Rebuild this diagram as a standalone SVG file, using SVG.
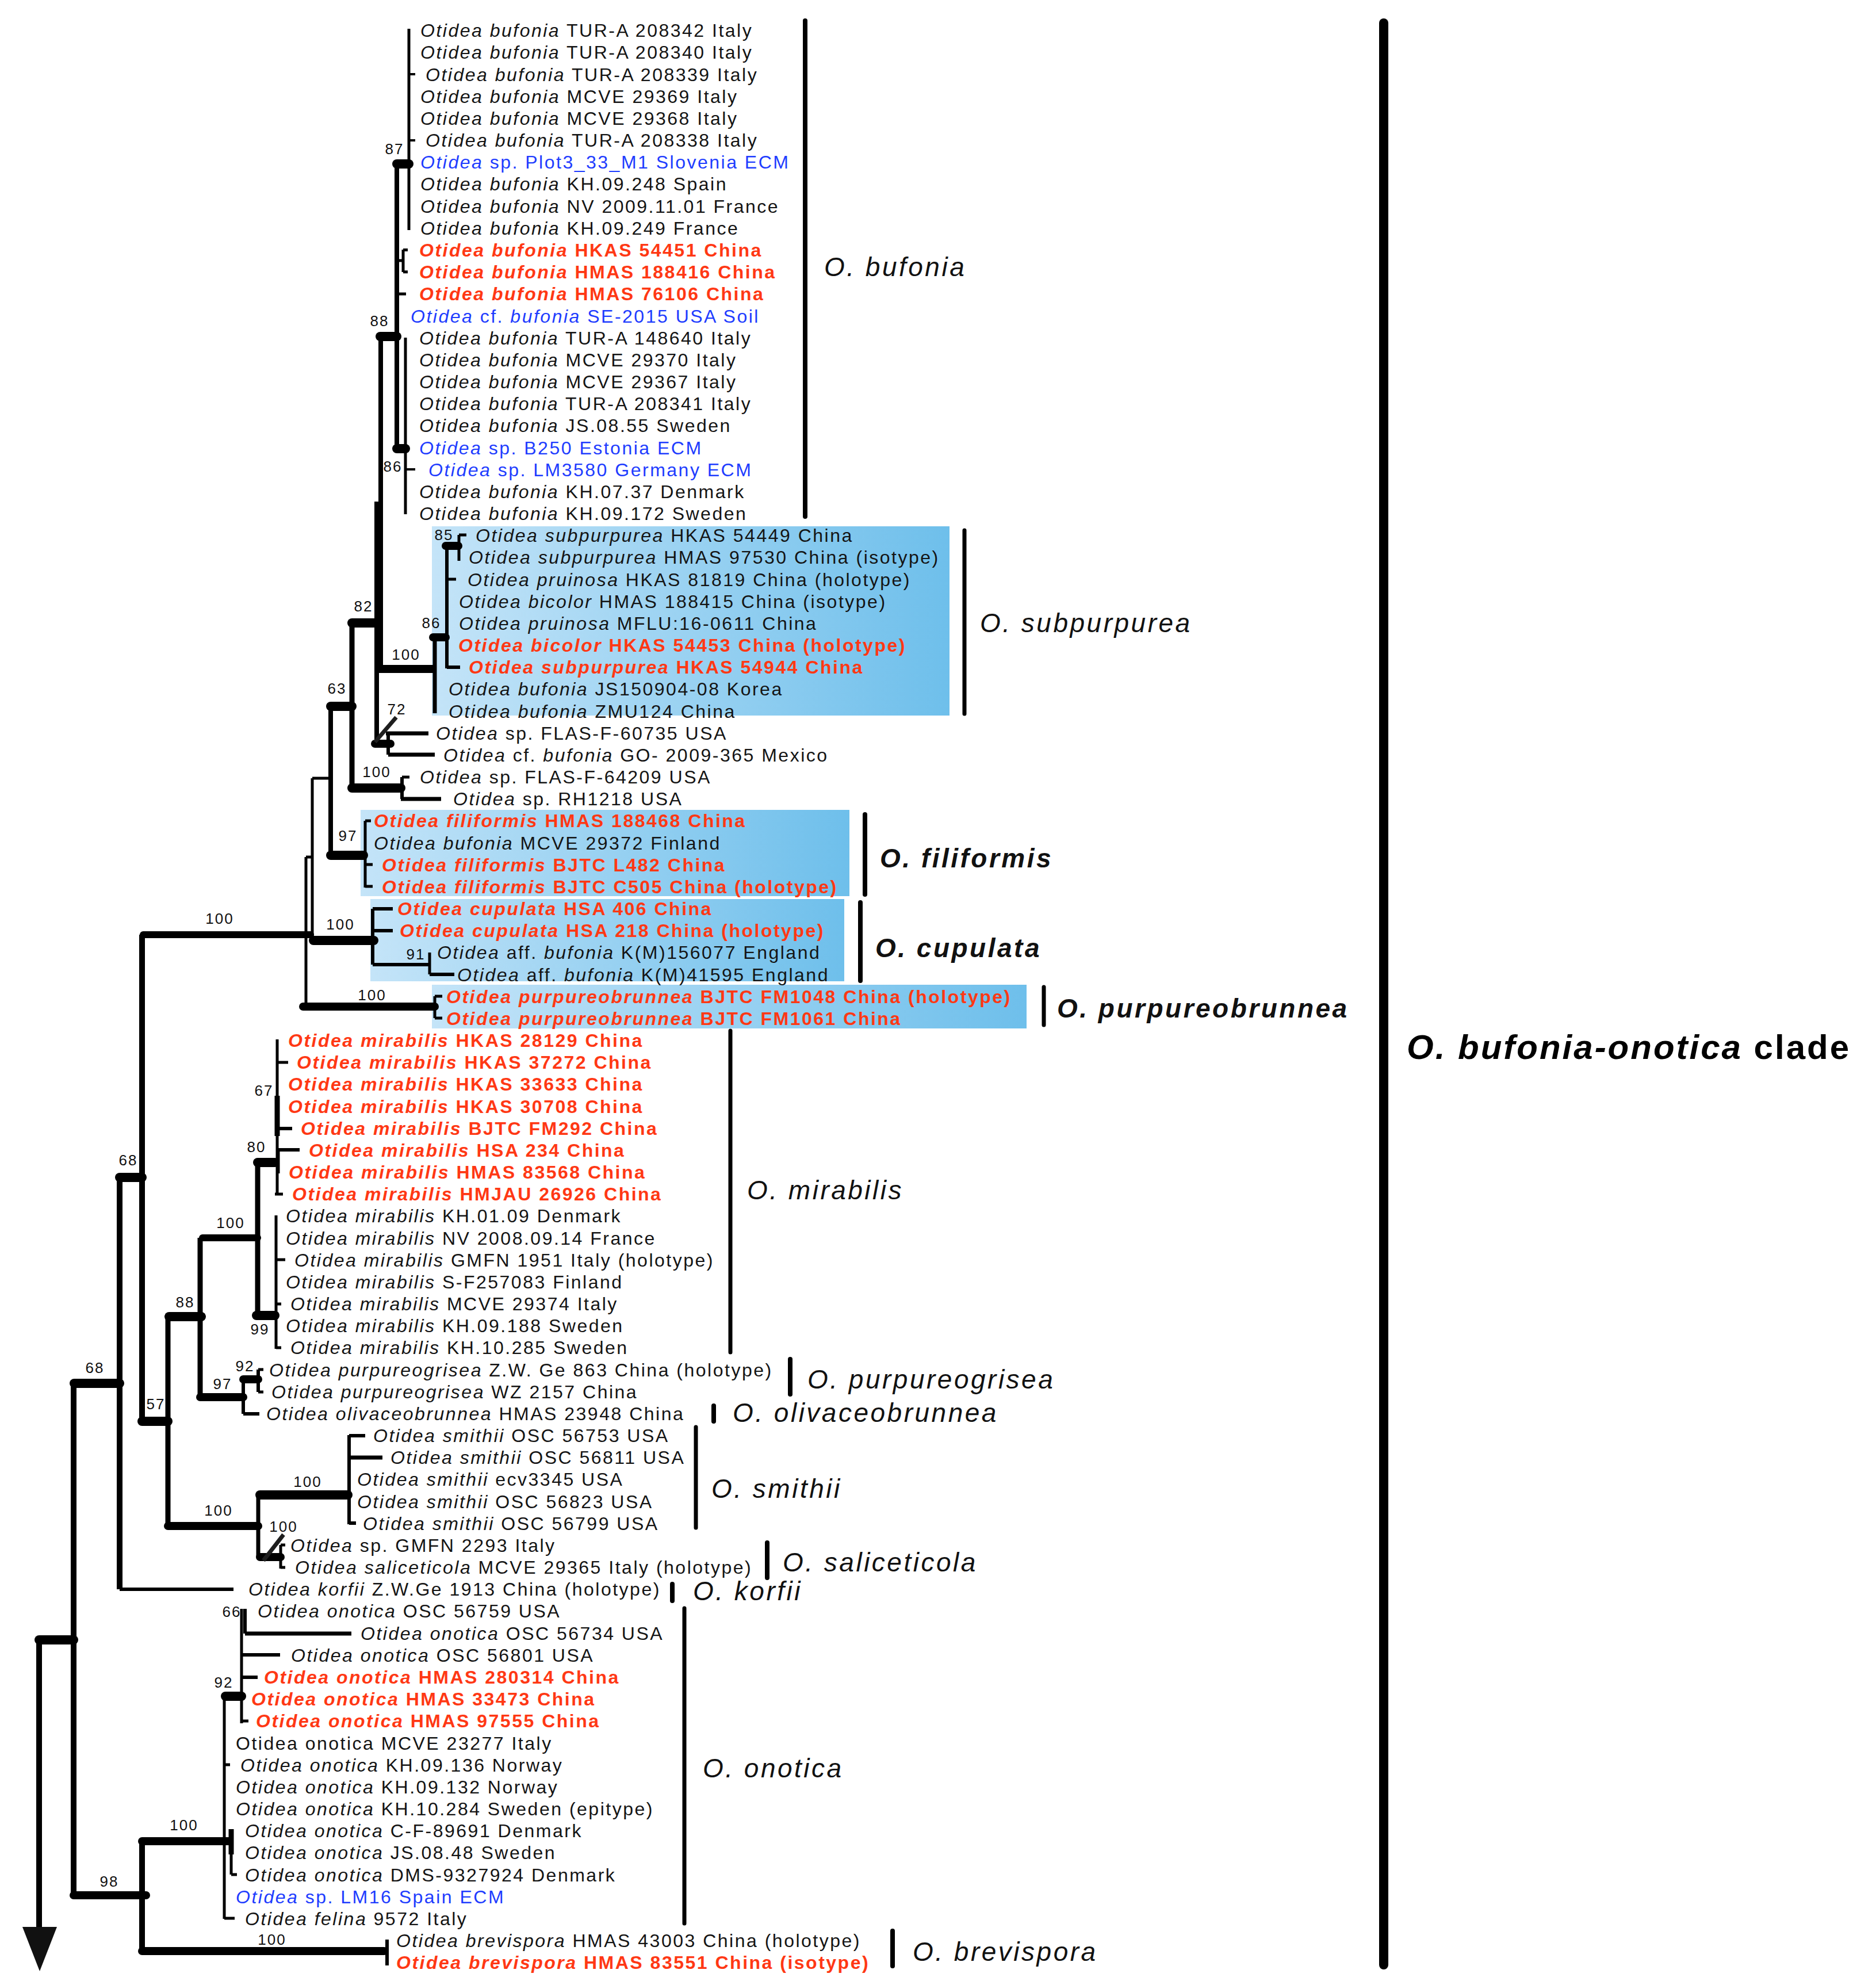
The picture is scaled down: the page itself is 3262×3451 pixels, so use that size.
<svg xmlns="http://www.w3.org/2000/svg" width="3262" height="3451" viewBox="0 0 3262 3451">
<defs>
<linearGradient id="bx" x1="0" y1="0" x2="1" y2="0">
<stop offset="0" stop-color="#c4e4f8"/>
<stop offset="1" stop-color="#6ebfeb"/>
</linearGradient>
<style>
.lf{font-family:"Liberation Sans",Arial,sans-serif;font-size:32px;letter-spacing:2.5px;fill:#141414}
.i{font-style:italic}
.red{fill:#ff3814;font-weight:bold}
.blu{fill:#1e3cff}
.sp{font-family:"Liberation Sans",Arial,sans-serif;font-size:26px;letter-spacing:2px;fill:#111;text-anchor:middle}
.cl{font-family:"Liberation Sans",Arial,sans-serif;font-size:46px;letter-spacing:3.5px;fill:#111;font-style:italic}
.clb{font-weight:bold}
.big{font-family:"Liberation Sans",Arial,sans-serif;font-size:60px;letter-spacing:3px;fill:#000;font-weight:bold}
.s{stroke:#000;fill:none}
.sl{stroke:#1e1e1e;fill:none;stroke-width:7}
.w4{stroke-width:4}.w5{stroke-width:5}.w6{stroke-width:6}.w7{stroke-width:7}.w8{stroke-width:8}.w9{stroke-width:9}.w10{stroke-width:10}.w12{stroke-width:12}.w14{stroke-width:14}.w16{stroke-width:16}
.rc{stroke-linecap:round}
.bar{stroke:#000;fill:none;stroke-linecap:round}
</style>
</defs>
<rect width="3262" height="3451" fill="#fff"/>

<g id="boxes">
<rect x="751" y="915" width="900" height="329" fill="url(#bx)"/>
<rect x="627" y="1408" width="850" height="150" fill="url(#bx)"/>
<rect x="644" y="1563" width="824" height="143" fill="url(#bx)"/>
<rect x="751" y="1712" width="1034" height="76" fill="url(#bx)"/>
</g>

<g id="connectors">
<path class="s w5" d="M711 50V400"/>
<path class="s w4" d="M711 129H722M711 244H722"/>
<path class="s w16 rc" d="M690 285H711"/>
<path class="s w8" d="M690 285V781"/>
<path class="s w5" d="M690 453H701M701 434V473M701 434.5H709M701 472.7H709M690 511H706"/>
<path class="s w16 rc" d="M661 585H690"/>
<path class="s w5" d="M705 587V894"/>
<path class="s w4" d="M705 816H722"/>
<path class="s w16 rc" d="M690 780H705"/>
<path class="s w8" d="M662 585V1163M655 872V1293"/>

<path class="s w16 rc" d="M612 1083H652"/>
<path class="s w14" d="M656 1163H758"/>
<path class="s w7" d="M756 1108V1240"/>
<path class="s w14 rc" d="M753 1108H775"/>
<path class="s w6" d="M777 949V1162M777 1160H800"/>
<path class="s w5" d="M777 1007H793"/>
<path class="s w14 rc" d="M775 949H797"/>
<path class="s w5" d="M798 930V975M798 930H811"/>

<path class="s w14 rc" d="M652 1293H679"/>
<path class="s w6" d="M675 1275V1312"/>
<path class="s w7" d="M671 1275H745M675 1312H756"/>
<path class="sl" d="M689 1247L652 1290"/>

<path class="s w16 rc" d="M575 1228H612"/>
<path class="s w9" d="M612 1083V1372"/>
<path class="s w16 rc" d="M612 1370H697"/>
<path class="s w6" d="M699 1351V1389"/>
<path class="s w5" d="M699 1351H712"/>
<path class="s w7" d="M697 1389H767"/>

<path class="s w8" d="M575 1228V1487"/>
<path class="s w5" d="M543 1353H575"/>
<path class="s w16 rc" d="M575 1487H632"/>
<path class="s w5" d="M635 1427V1543M635 1427H645M635 1503H648M635 1541H648"/>

<path class="s w5" d="M543 1353V1628M532 1490V1752M532 1490H545"/>
<path class="s w12 rc" d="M249 1625H540"/>
<path class="s w16 rc" d="M545 1635H650"/>
<path class="s w6" d="M648 1580V1677M648 1580H683M648 1618H683M648 1677H747M747 1694H790"/>
<path class="s w5" d="M747 1656V1694"/>
<path class="s w14 rc" d="M527 1750H756"/>
<path class="s w5" d="M756 1732V1770M756 1732H769M756 1770H769"/>

<path class="s w5" d="M482 1807V2076M482 1847H501M484 1999V2040M478 2076H492"/>
<path class="s w9" d="M482 1905V1975"/>
<path class="s w6" d="M482 1962H508M482 1999H521"/>
<path class="s w16 rc" d="M448 2021H478"/>
<path class="s w9" d="M448 2021V2287"/>
<path class="s w12 rc" d="M352 2152H448"/>
<path class="s w16 rc" d="M446 2287H478"/>
<path class="s w5" d="M480 2113V2345M480 2190H496M480 2267H489M480 2343H489"/>

<path class="s w9" d="M348 2152V2429"/>
<path class="s w16 rc" d="M294 2289H350"/>
<path class="s w14 rc" d="M348 2429H423"/>
<path class="s w6" d="M423 2398V2458M423 2458H451M449 2381V2420"/>
<path class="s w14 rc" d="M423 2398H449"/>
<path class="s w5" d="M449 2381H458M449 2420H458"/>

<path class="s w9" d="M292 2289V2653"/>
<path class="s w16 rc" d="M247 2471H292"/>
<path class="s w14 rc" d="M292 2653H449"/>
<path class="s w7" d="M449 2599V2708"/>
<path class="s w16 rc" d="M452 2599H605"/>
<path class="s w6" d="M607 2495V2650M607 2496H635M607 2648H619"/>
<path class="s w7" d="M607 2534H665"/>
<path class="s w14 rc" d="M452 2707H488"/>
<path class="s w5" d="M488 2686V2727M488 2686H496M488 2725H496"/>
<path class="sl" d="M493 2668L458 2713"/>

<path class="s w10" d="M247 1625V2471"/>
<path class="s w16 rc" d="M208 2047H247"/>
<path class="s w10" d="M208 2047V2763"/>
<path class="s w6" d="M208 2763H406"/>
<path class="s w16 rc" d="M129 2405H208"/>
<path class="s w10" d="M128 2405V3295"/>
<path class="s w14 rc" d="M128 3295H254"/>
<path class="s w16 rc" d="M68 2851H128"/>
<path class="s w10" d="M68 2851V3352"/>
<polygon points="39,3350 99,3350 69,3427" fill="#111"/>

<path class="s w10" d="M247 3201V3392"/>
<path class="s w14 rc" d="M247 3201H398"/>
<path class="s w5" d="M390 2949V3336M420 2797V2996M420 2992H432M390 3068H400M402 3180V3259M402 3259H412M390 3335H408"/>
<path class="s w16 rc" d="M392 2949H420"/>
<path class="s w6" d="M426 2797V2840M420 2877H487M420 2916H448"/>
<path class="s w7" d="M426 2840H611"/>
<path class="s w9" d="M402 3180V3224"/>
<path class="s w14 rc" d="M247 3392H668"/>
<path class="s w6" d="M673 3372V3417"/>
</g>

<g id="support">
<text class="sp" x="686" y="268">87</text>
<text class="sp" x="660" y="567">88</text>
<text class="sp" x="683" y="820">86</text>
<text class="sp" x="772" y="939">85</text>
<text class="sp" x="750" y="1092">86</text>
<text class="sp" x="706" y="1147">100</text>
<text class="sp" x="632" y="1063">82</text>
<text class="sp" x="586" y="1206">63</text>
<text class="sp" x="690" y="1242">72</text>
<text class="sp" x="655" y="1351">100</text>
<text class="sp" x="605" y="1462">97</text>
<text class="sp" x="382" y="1606">100</text>
<text class="sp" x="592" y="1616">100</text>
<text class="sp" x="723" y="1668">91</text>
<text class="sp" x="647" y="1739">100</text>
<text class="sp" x="459" y="1905">67</text>
<text class="sp" x="446" y="2003">80</text>
<text class="sp" x="223" y="2026">68</text>
<text class="sp" x="401" y="2135">100</text>
<text class="sp" x="322" y="2273">88</text>
<text class="sp" x="452" y="2320">99</text>
<text class="sp" x="426" y="2384">92</text>
<text class="sp" x="165" y="2387">68</text>
<text class="sp" x="387" y="2415">97</text>
<text class="sp" x="271" y="2450">57</text>
<text class="sp" x="535" y="2585">100</text>
<text class="sp" x="380" y="2635">100</text>
<text class="sp" x="493" y="2663">100</text>
<text class="sp" x="403" y="2811">66</text>
<text class="sp" x="389" y="2934">92</text>
<text class="sp" x="320" y="3182">100</text>
<text class="sp" x="190" y="3280">98</text>
<text class="sp" x="473" y="3381">100</text>
</g>

<g id="leaves">
<g id="leaf01"><text class="lf" x="731" y="64"><tspan class="i">Otidea bufonia</tspan> TUR-A 208342 Italy</text></g>
<g id="leaf02"><text class="lf" x="731" y="102"><tspan class="i">Otidea bufonia</tspan> TUR-A 208340 Italy</text></g>
<g id="leaf03"><text class="lf" x="740" y="141"><tspan class="i">Otidea bufonia</tspan> TUR-A 208339 Italy</text></g>
<g id="leaf04"><text class="lf" x="731" y="179"><tspan class="i">Otidea bufonia</tspan> MCVE 29369 Italy</text></g>
<g id="leaf05"><text class="lf" x="731" y="217"><tspan class="i">Otidea bufonia</tspan> MCVE 29368 Italy</text></g>
<g id="leaf06"><text class="lf" x="740" y="255"><tspan class="i">Otidea bufonia</tspan> TUR-A 208338 Italy</text></g>
<g id="leaf07"><text class="lf blu" x="731" y="293"><tspan class="i">Otidea</tspan> sp. Plot3_33_M1 Slovenia ECM</text></g>
<g id="leaf08"><text class="lf" x="731" y="331"><tspan class="i">Otidea bufonia</tspan> KH.09.248 Spain</text></g>
<g id="leaf09"><text class="lf" x="731" y="370"><tspan class="i">Otidea bufonia</tspan> NV 2009.11.01 France</text></g>
<g id="leaf10"><text class="lf" x="731" y="408"><tspan class="i">Otidea bufonia</tspan> KH.09.249 France</text></g>
<g id="leaf11"><text class="lf red" x="729" y="446"><tspan class="i">Otidea bufonia</tspan> HKAS 54451 China</text></g>
<g id="leaf12"><text class="lf red" x="729" y="484"><tspan class="i">Otidea bufonia</tspan> HMAS 188416 China</text></g>
<g id="leaf13"><text class="lf red" x="729" y="522"><tspan class="i">Otidea bufonia</tspan> HMAS 76106 China</text></g>
<g id="leaf14"><text class="lf blu" x="714" y="561"><tspan class="i">Otidea</tspan> cf. <tspan class="i">bufonia</tspan> SE-2015 USA Soil</text></g>
<g id="leaf15"><text class="lf" x="729" y="599"><tspan class="i">Otidea bufonia</tspan> TUR-A 148640 Italy</text></g>
<g id="leaf16"><text class="lf" x="729" y="637"><tspan class="i">Otidea bufonia</tspan> MCVE 29370 Italy</text></g>
<g id="leaf17"><text class="lf" x="729" y="675"><tspan class="i">Otidea bufonia</tspan> MCVE 29367 Italy</text></g>
<g id="leaf18"><text class="lf" x="729" y="713"><tspan class="i">Otidea bufonia</tspan> TUR-A 208341 Italy</text></g>
<g id="leaf19"><text class="lf" x="729" y="751"><tspan class="i">Otidea bufonia</tspan> JS.08.55 Sweden</text></g>
<g id="leaf20"><text class="lf blu" x="729" y="790"><tspan class="i">Otidea</tspan> sp. B250 Estonia ECM</text></g>
<g id="leaf21"><text class="lf blu" x="745" y="828"><tspan class="i">Otidea</tspan> sp. LM3580 Germany ECM</text></g>
<g id="leaf22"><text class="lf" x="729" y="866"><tspan class="i">Otidea bufonia</tspan> KH.07.37 Denmark</text></g>
<g id="leaf23"><text class="lf" x="729" y="904"><tspan class="i">Otidea bufonia</tspan> KH.09.172 Sweden</text></g>
<g id="leaf24"><text class="lf" x="827" y="942"><tspan class="i">Otidea subpurpurea</tspan> HKAS 54449 China</text></g>
<g id="leaf25"><text class="lf" x="815" y="980"><tspan class="i">Otidea subpurpurea</tspan> HMAS 97530 China (isotype)</text></g>
<g id="leaf26"><text class="lf" x="813" y="1019"><tspan class="i">Otidea pruinosa</tspan> HKAS 81819 China (holotype)</text></g>
<g id="leaf27"><text class="lf" x="798" y="1057"><tspan class="i">Otidea bicolor</tspan> HMAS 188415 China (isotype)</text></g>
<g id="leaf28"><text class="lf" x="798" y="1095"><tspan class="i">Otidea pruinosa</tspan> MFLU:16-0611 China</text></g>
<g id="leaf29"><text class="lf red" x="797" y="1133"><tspan class="i">Otidea bicolor</tspan> HKAS 54453 China (holotype)</text></g>
<g id="leaf30"><text class="lf red" x="815" y="1171"><tspan class="i">Otidea subpurpurea</tspan> HKAS 54944 China</text></g>
<g id="leaf31"><text class="lf" x="780" y="1209"><tspan class="i">Otidea bufonia</tspan> JS150904-08 Korea</text></g>
<g id="leaf32"><text class="lf" x="780" y="1248"><tspan class="i">Otidea bufonia</tspan> ZMU124 China</text></g>
<g id="leaf33"><text class="lf" x="758" y="1286"><tspan class="i">Otidea</tspan> sp. FLAS-F-60735 USA</text></g>
<g id="leaf34"><text class="lf" x="771" y="1324"><tspan class="i">Otidea</tspan> cf. <tspan class="i">bufonia</tspan> GO- 2009-365 Mexico</text></g>
<g id="leaf35"><text class="lf" x="730" y="1362"><tspan class="i">Otidea</tspan> sp. FLAS-F-64209 USA</text></g>
<g id="leaf36"><text class="lf" x="788" y="1400"><tspan class="i">Otidea</tspan> sp. RH1218 USA</text></g>
<g id="leaf37"><text class="lf red" x="650" y="1438"><tspan class="i">Otidea filiformis</tspan> HMAS 188468 China</text></g>
<g id="leaf38"><text class="lf" x="650" y="1477"><tspan class="i">Otidea bufonia</tspan> MCVE 29372 Finland</text></g>
<g id="leaf39"><text class="lf red" x="664" y="1515"><tspan class="i">Otidea filiformis</tspan> BJTC L482 China</text></g>
<g id="leaf40"><text class="lf red" x="664" y="1553"><tspan class="i">Otidea filiformis</tspan> BJTC C505 China (holotype)</text></g>
<g id="leaf41"><text class="lf red" x="691" y="1591"><tspan class="i">Otidea cupulata</tspan> HSA 406 China</text></g>
<g id="leaf42"><text class="lf red" x="695" y="1629"><tspan class="i">Otidea cupulata</tspan> HSA 218 China (holotype)</text></g>
<g id="leaf43"><text class="lf" x="760" y="1667"><tspan class="i">Otidea</tspan> aff. <tspan class="i">bufonia</tspan> K(M)156077 England</text></g>
<g id="leaf44"><text class="lf" x="795" y="1706"><tspan class="i">Otidea</tspan> aff. <tspan class="i">bufonia</tspan> K(M)41595 England</text></g>
<g id="leaf45"><text class="lf red" x="776" y="1744"><tspan class="i">Otidea purpureobrunnea</tspan> BJTC FM1048 China (holotype)</text></g>
<g id="leaf46"><text class="lf red" x="776" y="1782"><tspan class="i">Otidea purpureobrunnea</tspan> BJTC FM1061 China</text></g>
<g id="leaf47"><text class="lf red" x="501" y="1820"><tspan class="i">Otidea mirabilis</tspan> HKAS 28129 China</text></g>
<g id="leaf48"><text class="lf red" x="516" y="1858"><tspan class="i">Otidea mirabilis</tspan> HKAS 37272 China</text></g>
<g id="leaf49"><text class="lf red" x="501" y="1896"><tspan class="i">Otidea mirabilis</tspan> HKAS 33633 China</text></g>
<g id="leaf50"><text class="lf red" x="501" y="1935"><tspan class="i">Otidea mirabilis</tspan> HKAS 30708 China</text></g>
<g id="leaf51"><text class="lf red" x="523" y="1973"><tspan class="i">Otidea mirabilis</tspan> BJTC FM292 China</text></g>
<g id="leaf52"><text class="lf red" x="537" y="2011"><tspan class="i">Otidea mirabilis</tspan> HSA 234 China</text></g>
<g id="leaf53"><text class="lf red" x="502" y="2049"><tspan class="i">Otidea mirabilis</tspan> HMAS 83568 China</text></g>
<g id="leaf54"><text class="lf red" x="508" y="2087"><tspan class="i">Otidea mirabilis</tspan> HMJAU 26926 China</text></g>
<g id="leaf55"><text class="lf" x="497" y="2125"><tspan class="i">Otidea mirabilis</tspan> KH.01.09 Denmark</text></g>
<g id="leaf56"><text class="lf" x="497" y="2164"><tspan class="i">Otidea mirabilis</tspan> NV 2008.09.14 France</text></g>
<g id="leaf57"><text class="lf" x="512" y="2202"><tspan class="i">Otidea mirabilis</tspan> GMFN 1951 Italy (holotype)</text></g>
<g id="leaf58"><text class="lf" x="497" y="2240"><tspan class="i">Otidea mirabilis</tspan> S-F257083 Finland</text></g>
<g id="leaf59"><text class="lf" x="505" y="2278"><tspan class="i">Otidea mirabilis</tspan> MCVE 29374 Italy</text></g>
<g id="leaf60"><text class="lf" x="497" y="2316"><tspan class="i">Otidea mirabilis</tspan> KH.09.188 Sweden</text></g>
<g id="leaf61"><text class="lf" x="505" y="2354"><tspan class="i">Otidea mirabilis</tspan> KH.10.285 Sweden</text></g>
<g id="leaf62"><text class="lf" x="468" y="2393"><tspan class="i">Otidea purpureogrisea</tspan> Z.W. Ge 863 China (holotype)</text></g>
<g id="leaf63"><text class="lf" x="472" y="2431"><tspan class="i">Otidea purpureogrisea</tspan> WZ 2157 China</text></g>
<g id="leaf64"><text class="lf" x="463" y="2469"><tspan class="i">Otidea olivaceobrunnea</tspan> HMAS 23948 China</text></g>
<g id="leaf65"><text class="lf" x="649" y="2507"><tspan class="i">Otidea smithii</tspan> OSC 56753 USA</text></g>
<g id="leaf66"><text class="lf" x="679" y="2545"><tspan class="i">Otidea smithii</tspan> OSC 56811 USA</text></g>
<g id="leaf67"><text class="lf" x="621" y="2583"><tspan class="i">Otidea smithii</tspan> ecv3345 USA</text></g>
<g id="leaf68"><text class="lf" x="621" y="2622"><tspan class="i">Otidea smithii</tspan> OSC 56823 USA</text></g>
<g id="leaf69"><text class="lf" x="631" y="2660"><tspan class="i">Otidea smithii</tspan> OSC 56799 USA</text></g>
<g id="leaf70"><text class="lf" x="505" y="2698"><tspan class="i">Otidea</tspan> sp. GMFN 2293 Italy</text></g>
<g id="leaf71"><text class="lf" x="513" y="2736"><tspan class="i">Otidea saliceticola</tspan> MCVE 29365 Italy (holotype)</text></g>
<g id="leaf72"><text class="lf" x="432" y="2774"><tspan class="i">Otidea korfii</tspan> Z.W.Ge 1913 China (holotype)</text></g>
<g id="leaf73"><text class="lf" x="448" y="2812"><tspan class="i">Otidea onotica</tspan> OSC 56759 USA</text></g>
<g id="leaf74"><text class="lf" x="627" y="2851"><tspan class="i">Otidea onotica</tspan> OSC 56734 USA</text></g>
<g id="leaf75"><text class="lf" x="506" y="2889"><tspan class="i">Otidea onotica</tspan> OSC 56801 USA</text></g>
<g id="leaf76"><text class="lf red" x="459" y="2927"><tspan class="i">Otidea onotica</tspan> HMAS 280314 China</text></g>
<g id="leaf77"><text class="lf red" x="437" y="2965"><tspan class="i">Otidea onotica</tspan> HMAS 33473 China</text></g>
<g id="leaf78"><text class="lf red" x="445" y="3003"><tspan class="i">Otidea onotica</tspan> HMAS 97555 China</text></g>
<g id="leaf79"><text class="lf" x="410" y="3042">Otidea onotica MCVE 23277 Italy</text></g>
<g id="leaf80"><text class="lf" x="418" y="3080"><tspan class="i">Otidea onotica</tspan> KH.09.136 Norway</text></g>
<g id="leaf81"><text class="lf" x="410" y="3118"><tspan class="i">Otidea onotica</tspan> KH.09.132 Norway</text></g>
<g id="leaf82"><text class="lf" x="410" y="3156"><tspan class="i">Otidea onotica</tspan> KH.10.284 Sweden (epitype)</text></g>
<g id="leaf83"><text class="lf" x="426" y="3194"><tspan class="i">Otidea onotica</tspan> C-F-89691 Denmark</text></g>
<g id="leaf84"><text class="lf" x="426" y="3232"><tspan class="i">Otidea onotica</tspan> JS.08.48 Sweden</text></g>
<g id="leaf85"><text class="lf" x="426" y="3271"><tspan class="i">Otidea onotica</tspan> DMS-9327924 Denmark</text></g>
<g id="leaf86"><text class="lf blu" x="410" y="3309"><tspan class="i">Otidea</tspan> sp. LM16 Spain ECM</text></g>
<g id="leaf87"><text class="lf" x="426" y="3347"><tspan class="i">Otidea felina</tspan> 9572 Italy</text></g>
<g id="leaf88"><text class="lf" x="689" y="3385"><tspan class="i">Otidea brevispora</tspan> HMAS 43003 China (holotype)</text></g>
<g id="leaf89"><text class="lf red" x="689" y="3423"><tspan class="i">Otidea brevispora</tspan> HMAS 83551 China (isotype)</text></g>
</g>

<g id="clades">
<g id="c-bufonia"><path class="bar" stroke-width="8" d="M1400 36V898"/><text class="cl" x="1433" y="480">O. bufonia</text></g>
<g id="c-subpurpurea"><path class="bar" stroke-width="7" d="M1677 922V1241"/><text class="cl" x="1704" y="1099">O. subpurpurea</text></g>
<g id="c-filiformis"><path class="bar" stroke-width="8" d="M1504 1416V1555"/><text class="cl clb" x="1530" y="1508">O. filiformis</text></g>
<g id="c-cupulata"><path class="bar" stroke-width="8" d="M1496 1569V1705"/><text class="cl clb" x="1522" y="1664">O. cupulata</text></g>
<g id="c-purpureobrunnea"><path class="bar" stroke-width="7" d="M1815 1716V1782"/><text class="cl clb" x="1838" y="1769">O. purpureobrunnea</text></g>
<g id="c-mirabilis"><path class="bar" stroke-width="7" d="M1270 1792V2351"/><text class="cl" x="1299" y="2085">O. mirabilis</text></g>
<g id="c-purpureogrisea"><path class="bar" stroke-width="8" d="M1374 2363V2424"/><text class="cl" x="1404" y="2414">O. purpureogrisea</text></g>
<g id="c-olivaceobrunnea"><path class="bar" stroke-width="8" d="M1241 2444V2471"/><text class="cl" x="1274" y="2472">O. olivaceobrunnea</text></g>
<g id="c-smithii"><path class="bar" stroke-width="7" d="M1210 2481V2656"/><text class="cl" x="1237" y="2604">O. smithii</text></g>
<g id="c-saliceticola"><path class="bar" stroke-width="8" d="M1334 2682V2743"/><text class="cl" x="1361" y="2732">O. saliceticola</text></g>
<g id="c-korfii"><path class="bar" stroke-width="8" d="M1169 2754V2783"/><text class="cl" x="1205" y="2782">O. korfii</text></g>
<g id="c-onotica"><path class="bar" stroke-width="7" d="M1190 2796V3344"/><text class="cl" x="1222" y="3090">O. onotica</text></g>
<g id="c-brevispora"><path class="bar" stroke-width="8" d="M1552 3357V3418"/><text class="cl" x="1587" y="3409">O. brevispora</text></g>
<g id="c-main"><path class="bar" stroke-width="16" d="M2406 40V3416"/><text class="big" x="2446" y="1841"><tspan font-style="italic">O. bufonia-onotica</tspan> clade</text></g>
</g>
</svg>
